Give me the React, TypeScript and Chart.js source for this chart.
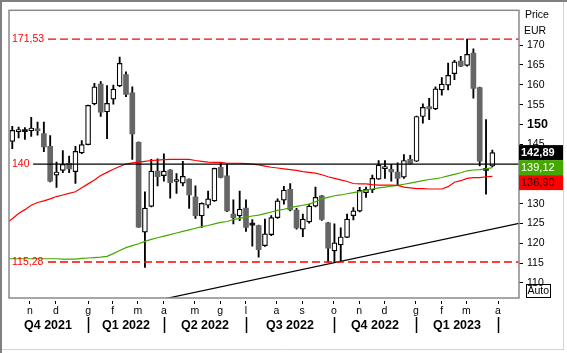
import React, { useEffect, useRef } from 'react';
import { Chart, registerables } from 'chart.js';

Chart.register(...registerables);

const FONT = '"Liberation Sans", Arial, Helvetica, sans-serif';

// Weekly candles (index 0 = first week shown)
const opens = [
  145.7, 148.2, 148.3, 148.4, 148.9, 147.7, 144.5, 137.2, 138.4, 140.2,
  138.1, 142.8, 144.9, 155.2, 160.2, 153.2, 156.4, 159.7, 162.6, 158.0,
  145.5, 122.8, 129.3, 138.2, 137.1, 138.5, 135.6, 135.2, 136.2, 131.7,
  126.9, 129.6, 130.7, 139.2, 137.0, 127.4, 126.9, 128.9, 124.8, 124.5,
  119.4, 122.2, 126.5, 130.9, 133.6, 128.4, 123.6, 125.4, 129.4, 132.0,
  125.2, 118.1, 119.6, 121.5, 127.0, 128.1, 132.8, 133.5, 136.2, 138.85,
  138.7, 138.0, 136.7, 141.2, 140.7, 152.0, 154.5, 153.9, 158.7, 159.9,
  162.8, 166.0, 164.9, 168.0, 159.3, 138.8, 139.5,
];
const highs = [
  149.5, 149.3, 149.2, 151.8, 150.6, 150.6, 147.2, 140.5, 143.4, 142.0,
  144.5, 145.9, 154.9, 160.4, 160.8, 159.8, 159.9, 167.0, 163.3, 159.5,
  145.6, 133.0, 141.2, 141.3, 142.6, 138.6, 137.6, 140.7, 136.3, 134.5,
  130.2, 133.2, 139.0, 140.3, 139.9, 131.0, 133.2, 131.0, 126.0, 124.6,
  126.1, 127.0, 131.2, 134.4, 135.1, 128.8, 127.4, 129.9, 134.2, 132.1,
  125.3, 124.9, 123.9, 127.4, 129.0, 134.1, 134.2, 137.2, 140.9, 140.9,
  139.9, 140.3, 142.4, 142.2, 152.1, 155.2, 156.6, 159.5, 161.8, 165.5,
  166.2, 167.2, 171.53, 169.1, 159.4, 151.2, 143.5,
];
const lows = [
  143.9, 146.6, 146.2, 147.0, 147.3, 143.1, 135.5, 134.1, 137.8, 137.8,
  135.1, 142.6, 144.8, 154.9, 152.0, 146.4, 155.1, 159.5, 157.0, 141.2,
  124.0, 113.9, 129.2, 134.5, 135.7, 131.4, 132.6, 134.5, 128.8, 126.3,
  124.0, 128.9, 130.6, 136.5, 128.0, 124.9, 125.7, 123.0, 119.3, 116.5,
  119.2, 121.9, 126.3, 129.9, 128.2, 123.6, 121.7, 125.1, 129.2, 125.8,
  115.3, 115.3, 115.3, 121.4, 125.9, 127.9, 131.6, 132.8, 136.1, 136.4,
  135.7, 134.7, 136.4, 140.0, 140.6, 150.3, 151.2, 153.7, 157.4, 158.7,
  161.3, 164.6, 164.7, 156.6, 139.5, 132.4, 139.3,
];
const closes = [
  148.5, 148.3, 148.2, 149.1, 148.4, 144.3, 135.7, 138.0, 139.9, 138.8,
  143.2, 144.9, 154.8, 159.5, 153.1, 155.3, 158.9, 165.4, 157.6, 147.6,
  124.1, 128.9, 138.2, 136.8, 138.2, 135.3, 135.7, 136.9, 132.2, 127.0,
  130.1, 131.2, 138.9, 136.6, 128.2, 126.5, 128.6, 124.0, 124.6, 118.4,
  122.4, 126.5, 130.7, 133.4, 128.4, 123.9, 126.1, 129.4, 131.6, 126.0,
  118.8, 120.1, 121.6, 126.1, 128.2, 133.4, 133.6, 136.4, 139.7, 138.95,
  138.0, 136.4, 140.9, 140.1, 152.0, 154.3, 153.9, 159.0, 160.2, 162.4,
  165.8, 164.7, 167.7, 159.1, 140.7, 138.4, 142.89,
];

// Moving averages, first value belongs to week index -1
const maStartIndex = -1;
const redMA = [
  125.0,
  126.2, 127.5, 128.5, 129.6, 130.3, 130.7, 131.2, 131.8, 132.2, 132.6,
  133.0, 134.0, 135.0, 136.0, 137.1, 137.9, 138.7, 139.4, 140.0, 140.3,
  140.5, 140.7, 140.9, 141.0, 141.1, 141.2, 141.2, 141.2, 141.2, 140.9,
  140.7, 140.5, 140.4, 140.4, 140.2, 140.2, 140.2, 140.1, 140.0, 139.8,
  139.5, 139.2, 139.0, 138.8, 138.6, 138.4, 138.1, 137.9, 137.7, 137.3,
  136.8, 136.4, 136.0, 135.6, 135.1, 135.0, 135.0, 134.8, 134.7, 134.7,
  134.7, 134.6, 134.2, 134.0, 133.8, 133.8, 133.7, 133.7, 133.7, 134.3,
  135.4, 135.8, 136.4, 136.6, 136.6, 136.8, 136.9,
];
const greenMA = [
  116.1,
  116.1, 116.1, 116.1, 116.1, 116.1, 116.1, 116.1, 116.1, 116.0, 116.0,
  116.0, 116.2, 116.3, 116.4, 116.5, 116.7, 117.4, 118.2, 118.9, 119.4,
  119.9, 120.5, 121.0, 121.4, 121.8, 122.2, 122.6, 123.0, 123.4, 123.8,
  124.2, 124.5, 124.9, 125.3, 125.5, 126.0, 126.3, 126.6, 126.9, 127.1,
  127.5, 127.9, 128.3, 128.6, 129.0, 129.3, 129.6, 129.9, 130.5, 131.2,
  131.6, 132.0, 132.2, 132.5, 132.8, 133.05, 133.4, 133.7, 134.0, 134.2,
  134.4, 134.6, 134.9, 135.2, 135.5, 135.8, 136.1, 136.3, 136.6, 137.0,
  137.4, 137.8, 138.3, 138.5, 138.6, 138.8, 139.12,
];

// X axis: month ticks (week index of month start) and quarters
const monthTickPos = [2.8, 6.9, 12, 15.9, 19.9, 24, 28.9, 32.9, 37, 41.8, 45.9, 50.9, 54.9, 58.9, 63.9, 68, 71.9, 76.9];
const monthLabels = ['n', 'd', 'g', 'f', 'm', 'a', 'm', 'g', 'l', 'a', 's', 'o', 'n', 'd', 'g', 'f', 'm', 'a'];
const quarterLabels = ['Q4 2021', 'Q1 2022', 'Q2 2022', 'Q3 2022', 'Q4 2022', 'Q1 2023'];
const quarterCenterPos = [5.65, 18, 30.5, 43.95, 57.4, 70.4];
const quarterBoundaryPos = [12, 24, 37, 50.9, 63.9, 76.9];

const yTickValues = [110, 115, 120, 125, 130, 135, 140, 145, 150, 155, 160, 165, 170];

// Levels
const highLevel = 171.53;
const lowLevel = 115.28;
const pivotLevel = 140;
const levelLabelStart = 5.65;
const pivotLineStart = 3.3;
const trendPoints = [{ x: 20, y: 104.6 }, { x: 80.22, y: 125.05 }];

const lastClose = 142.89;
const lastGreen = 139.12;
const lastRed = 136.9;

const xMin = -0.52;
const xMax = 80.22;
const yMin = 106.2;
const yMax = 178.8;

const GREEN = '#44a800';
const RED = '#ff0000';

const fmt = (v: number) => v.toFixed(2).replace('.', ',');

const overlayPlugin = {
  id: 'overlay',
  beforeDraw(chart: any) {
    const { ctx, width, height } = chart;
    ctx.save();
    ctx.fillStyle = '#ffffff';
    ctx.fillRect(0, 0, width, height);
    ctx.restore();
  },
  afterDraw(chart: any) {
    const { ctx, chartArea: a, scales } = chart;
    const y = scales.y;
    const x = scales.x;
    const x2 = scales.x2;
    ctx.save();

    // plot frame
    ctx.strokeStyle = '#8a8a8a';
    ctx.lineWidth = 1.5;
    ctx.strokeRect(a.left, a.top, a.right - a.left, a.bottom - a.top);

    // level labels
    ctx.font = `10.5px ${FONT}`;
    ctx.fillStyle = RED;
    ctx.textAlign = 'left';
    ctx.textBaseline = 'middle';
    ctx.fillText(fmt(highLevel), a.left + 3, y.getPixelForValue(highLevel));
    ctx.fillText(String(pivotLevel), a.left + 3, y.getPixelForValue(pivotLevel));
    ctx.fillText(fmt(lowLevel), a.left + 3, y.getPixelForValue(lowLevel));

    // quarter separators
    ctx.strokeStyle = '#000';
    ctx.lineWidth = 1.5;
    quarterBoundaryPos.forEach((p) => {
      const px = Math.round(x.getPixelForValue(p)) + 0.5;
      ctx.beginPath();
      ctx.moveTo(px, x2.top - 1);
      ctx.lineTo(px, x2.top + 15);
      ctx.stroke();
    });

    // last value boxes
    const boxes = [
      { v: lastClose, bg: '#000000', fg: '#ffffff', bold: true },
      { v: lastGreen, bg: GREEN, fg: '#ffffff', bold: false },
      { v: lastRed, bg: RED, fg: '#300000', bold: false },
    ];
    let prevBottom = -Infinity;
    const bh = 15;
    boxes.forEach((b) => {
      let top = y.getPixelForValue(b.v) - bh / 2;
      if (top < prevBottom) top = prevBottom;
      ctx.fillStyle = b.bg;
      ctx.fillRect(a.right, top, 44, bh);
      ctx.fillStyle = b.fg;
      ctx.font = `${b.bold ? 'bold ' : ''}11px ${FONT}`;
      ctx.textAlign = 'left';
      ctx.textBaseline = 'middle';
      ctx.fillText(fmt(b.v), a.right + 2, top + bh / 2 + 0.5);
      prevBottom = top + bh;
    });

    // axis title
    ctx.fillStyle = '#000';
    ctx.font = `10.5px ${FONT}`;
    ctx.fillText('Price', a.right + 6, 15.5);
    ctx.fillText('EUR', a.right + 5, 31.5);

    // Auto box
    ctx.strokeStyle = '#000';
    ctx.lineWidth = 1;
    ctx.strokeRect(a.right + 7.5, 284.5, 24, 13);
    ctx.fillText('Auto', a.right + 8.5, 291.5);

    // outer window frame
    ctx.strokeStyle = '#808080';
    ctx.lineWidth = 2;
    ctx.beginPath();
    ctx.moveTo(1, chart.height);
    ctx.lineTo(1, 1);
    ctx.lineTo(chart.width, 1);
    ctx.stroke();
    ctx.strokeStyle = '#d4d4d4';
    ctx.lineWidth = 1;
    ctx.beginPath();
    ctx.moveTo(563.5, 2);
    ctx.lineTo(563.5, 350);
    ctx.moveTo(2, 349.5);
    ctx.lineTo(563.5, 349.5);
    ctx.stroke();

    ctx.restore();
  },
};

export default function App() {
  const ref = useRef<HTMLCanvasElement | null>(null);

  useEffect(() => {
    document.body.style.margin = '0';
    const canvas = ref.current;
    if (!canvas) return;
    const idx = opens.map((_, i) => i);
    const isUp = (i: number) => closes[i] >= opens[i];
    const isTiny = (i: number) => Math.abs(closes[i] - opens[i]) < 0.45;

    const chart = new Chart(canvas, {
      type: 'bar',
      data: {
        datasets: [
          {
            type: 'bar',
            label: 'wick',
            data: idx.map((i) => ({ x: i, y: [lows[i], highs[i]] })) as any,
            backgroundColor: '#000',
            barThickness: 1.2,
            grouped: false,
            order: 5,
            xAxisID: 'x',
            yAxisID: 'y',
          } as any,
          {
            type: 'bar',
            label: 'body',
            data: idx.map((i) => ({ x: i, y: [opens[i], closes[i]] })) as any,
            backgroundColor: (c: any) => {
              const i = c.dataIndex;
              if (i == null) return '#666';
              if (isUp(i)) return '#ffffff';
              return isTiny(i) ? '#111111' : '#666666';
            },
            borderColor: (c: any) => {
              const i = c.dataIndex;
              if (i == null) return '#000';
              if (isUp(i)) return '#000000';
              return isTiny(i) ? '#111111' : '#666666';
            },
            borderWidth: (c: any) => {
              const i = c.dataIndex;
              if (i == null) return 0;
              return isUp(i) ? 1.2 : 0;
            },
            borderSkipped: false,
            barThickness: 5,
            minBarLength: 2,
            grouped: false,
            order: 4,
            xAxisID: 'x',
            yAxisID: 'y',
          } as any,
          {
            type: 'line',
            label: 'red',
            data: redMA.map((v, k) => ({ x: k + maStartIndex, y: v })),
            borderColor: RED,
            borderWidth: 1.2,
            pointRadius: 0,
            tension: 0,
            order: 2,
            xAxisID: 'x',
            yAxisID: 'y',
          },
          {
            type: 'line',
            label: 'green',
            data: greenMA.map((v, k) => ({ x: k + maStartIndex, y: v })),
            borderColor: GREEN,
            borderWidth: 1.2,
            pointRadius: 0,
            tension: 0,
            order: 2,
            xAxisID: 'x',
            yAxisID: 'y',
          },
          {
            type: 'line',
            label: 'pivot',
            data: [{ x: pivotLineStart, y: pivotLevel }, { x: xMax, y: pivotLevel }],
            borderColor: '#000',
            borderWidth: 1.3,
            pointRadius: 0,
            order: 1,
            xAxisID: 'x',
            yAxisID: 'y',
          },
          {
            type: 'line',
            label: 'high',
            data: [{ x: levelLabelStart, y: highLevel }, { x: xMax, y: highLevel }],
            borderColor: RED,
            borderWidth: 1.3,
            borderDash: [8, 4],
            pointRadius: 0,
            order: 1,
            xAxisID: 'x',
            yAxisID: 'y',
          },
          {
            type: 'line',
            label: 'low',
            data: [{ x: levelLabelStart, y: lowLevel }, { x: xMax, y: lowLevel }],
            borderColor: RED,
            borderWidth: 1.3,
            borderDash: [8, 4],
            pointRadius: 0,
            order: 1,
            xAxisID: 'x',
            yAxisID: 'y',
          },
          {
            type: 'line',
            label: 'trend',
            data: trendPoints,
            borderColor: '#000',
            borderWidth: 1.2,
            pointRadius: 0,
            order: 1,
            xAxisID: 'x',
            yAxisID: 'y',
          },
        ],
      },
      options: {
        responsive: false,
        animation: false,
        devicePixelRatio: 1,
        events: [],
        layout: { padding: { left: 9, top: 8, right: 0, bottom: 17 } },
        plugins: { legend: { display: false }, tooltip: { enabled: false } },
        scales: {
          x: {
            type: 'linear',
            position: 'bottom',
            weight: 0,
            offset: false,
            min: xMin,
            max: xMax,
            bounds: 'data',
            afterBuildTicks: (s: any) => {
              s.ticks = monthTickPos.map((v) => ({ value: v }));
            },
            afterFit: (s: any) => {
              s.height = 20;
            },
            ticks: {
              autoSkip: false,
              maxRotation: 0,
              padding: 1,
              color: '#000',
              font: { family: FONT, size: 10.5 },
              callback: (_v: any, i: number) => monthLabels[i],
            },
            grid: {
              offset: false,
              drawOnChartArea: false,
              tickLength: 6,
              tickColor: '#000',
              tickWidth: 1,
              tickBorderDash: [0, 3, 3, 0],
            },
            border: { display: false },
          } as any,
          x2: {
            type: 'linear',
            position: 'bottom',
            weight: 1,
            offset: false,
            min: xMin,
            max: xMax,
            bounds: 'data',
            afterBuildTicks: (s: any) => {
              s.ticks = quarterCenterPos.map((v) => ({ value: v }));
            },
            afterFit: (s: any) => {
              s.height = 18;
            },
            ticks: {
              autoSkip: false,
              maxRotation: 0,
              padding: 0,
              color: '#000',
              font: { family: FONT, size: 12.5, weight: 'bold' },
              callback: (_v: any, i: number) => quarterLabels[i],
            },
            grid: { display: false, drawTicks: false, tickLength: 0, offset: false },
            border: { display: false },
          } as any,
          y: {
            type: 'linear',
            position: 'right',
            min: yMin,
            max: yMax,
            bounds: 'data',
            afterBuildTicks: (s: any) => {
              s.ticks = yTickValues.map((v) => ({ value: v }));
            },
            afterFit: (s: any) => {
              s.width = 48;
            },
            ticks: {
              padding: 4,
              color: '#000',
              font: (c: any) =>
                c.tick && c.tick.value === 150
                  ? { family: FONT, size: 12.5, weight: 'bold' }
                  : { family: FONT, size: 10.5 },
              callback: (v: any) => String(v),
            },
            grid: {
              drawOnChartArea: false,
              tickLength: 4,
              tickColor: '#000',
            },
            border: { display: false },
          } as any,
        },
      } as any,
      plugins: [overlayPlugin],
    });
    return () => chart.destroy();
  }, []);

  return (
    <div style={{ width: 567, height: 353 }}>
      <canvas ref={ref} width={567} height={353} style={{ display: 'block' }} />
    </div>
  );
}
